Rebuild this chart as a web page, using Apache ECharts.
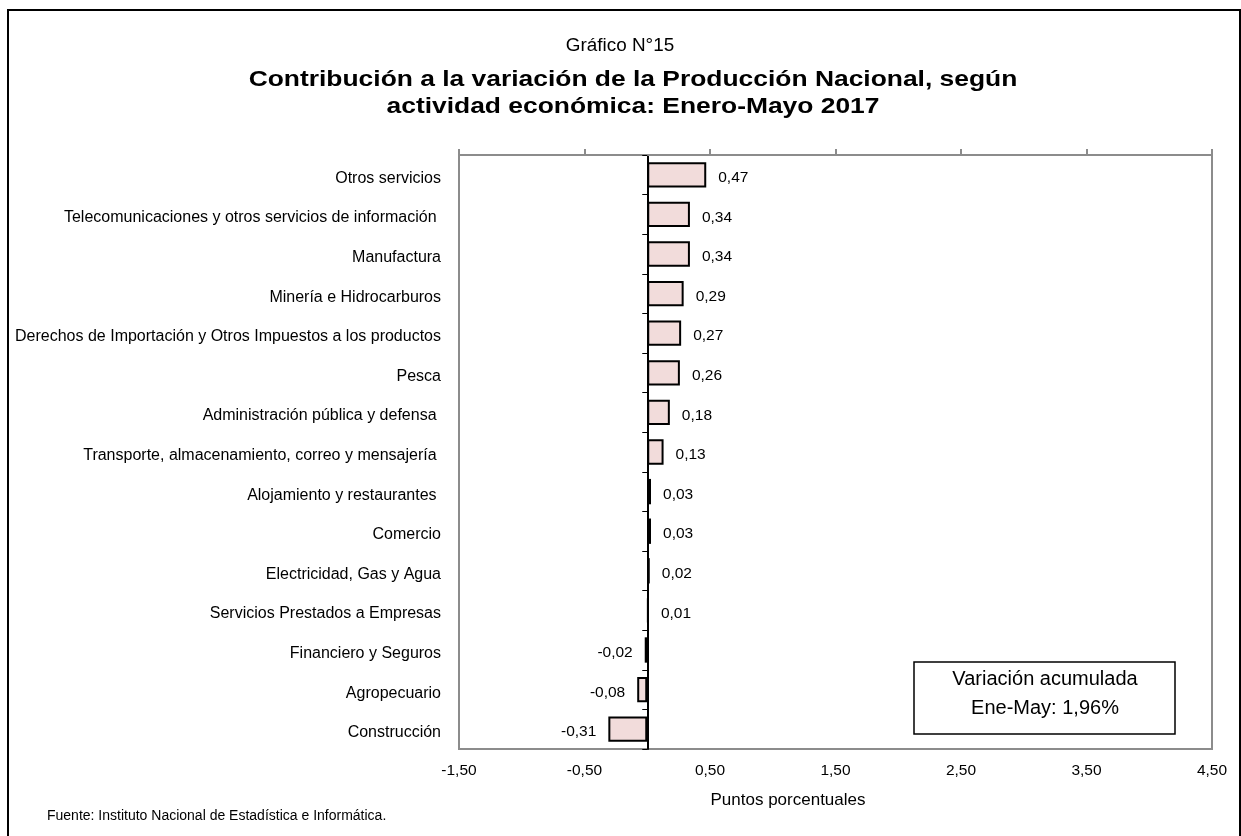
<!DOCTYPE html>
<html>
<head>
<meta charset="utf-8">
<script src="https://cdn.jsdelivr.net/npm/echarts@6/dist/echarts.min.js"></script>
<style>
html,body{margin:0;padding:0;background:#fff;}
#chart{width:1241px;height:836px;}
</style>
</head>
<body>
<div id="chart"></div>
<script>
var categories = [
  "Otros servicios",
  "Telecomunicaciones y otros servicios de información ",
  "Manufactura",
  "Minería e Hidrocarburos",
  "Derechos de Importación y Otros Impuestos a los productos",
  "Pesca",
  "Administración pública y defensa ",
  "Transporte, almacenamiento, correo y mensajería ",
  "Alojamiento y restaurantes ",
  "Comercio",
  "Electricidad, Gas y Agua",
  "Servicios Prestados a Empresas",
  "Financiero y Seguros",
  "Agropecuario",
  "Construcción"
];
var values = [0.47, 0.34, 0.34, 0.29, 0.27, 0.26, 0.18, 0.13, 0.03, 0.03, 0.02, 0.01, -0.02, -0.08, -0.31];
var xMin = -1.5, xMax = 4.5, xStep = 1;
var titleTop = "Gráfico N°15";
var titleLines = ["Contribución a la variación de la Producción Nacional, según", "actividad económica: Enero-Mayo 2017"];
var axisName = "Puntos porcentuales";
var sourceText = "Fuente: Instituto Nacional de Estadística e Informática.";
var boxLines = ["Variación acumulada", "Ene-May: 1,96%"];

function fmt(v){ return v.toFixed(2).replace('.', ','); }

var FONT = "'Liberation Sans', Arial, sans-serif";
var chart = echarts.init(document.getElementById('chart'), null, {renderer:'canvas'});

var barData = values.map(function(v){
  return {
    value: v,
    label: { position: v >= 0 ? 'right' : 'left' }
  };
});

var option = {
  backgroundColor: '#fff',
  animation: false,
  textStyle: { fontFamily: FONT },
  grid: {
    left: 459, right: 29, top: 155, bottom: 87,
    show: true, borderColor: '#8c8c8c', borderWidth: 2, backgroundColor: 'transparent'
  },
  xAxis: [
    {
      type: 'value', position: 'bottom', min: xMin, max: xMax, interval: xStep,
      axisLine: { show: false }, axisTick: { show: false }, splitLine: { show: false },
      axisLabel: { formatter: fmt, color: '#000', fontSize: 15.5, fontFamily: FONT, margin: 14 }
    },
    {
      type: 'value', position: 'top', min: xMin, max: xMax, interval: xStep,
      axisLine: { show: true, onZero: false, lineStyle: { color: '#8c8c8c', width: 2 } },
      axisTick: { show: true, length: 6, lineStyle: { color: '#8c8c8c', width: 2 } },
      axisLabel: { show: false }, splitLine: { show: false }
    }
  ],
  yAxis: [
    {
      type: 'category', data: categories, inverse: true, position: 'left',
      axisLine: { show: false, onZero: false }, axisTick: { show: false },
      axisLabel: {
        color: '#000', fontSize: 16, fontFamily: FONT, margin: 18,
        formatter: function(v){ return '{a|' + v + '}'; },
        rich: { a: { color: '#000', fontSize: 16, fontFamily: FONT, padding: [7, 0, 0, 0] } }
      }
    },
    {
      type: 'category', data: categories, inverse: true, position: 'left',
      axisLine: { show: true, onZero: true, lineStyle: { color: '#000', width: 2 } },
      axisTick: { show: true, length: 5, inside: false, lineStyle: { color: '#000', width: 1 } },
      axisLabel: { show: false }
    }
  ],
  series: [{
    type: 'bar',
    xAxisIndex: 0, yAxisIndex: 0,
    data: barData,
    barWidth: '64%',
    itemStyle: { color: '#F2DCDB', borderColor: '#000', borderWidth: 2 },
    label: {
      show: true, distance: 12, offset: [0, 3], color: '#000', fontSize: 15.5, fontFamily: FONT,
      formatter: function(p){ return fmt(p.value); }
    }
  }],
  graphic: [
    { type: 'rect', shape: { x: 8, y: 10, width: 1232, height: 830 },
      style: { fill: 'none', stroke: '#000', lineWidth: 2 }, silent: true, z: 100 },
    { type: 'text', x: 620, y: 46, scaleX: 1.05, style: { text: titleTop, fill: '#000', font: "18px " + FONT, textAlign: 'center', textVerticalAlign: 'middle' } },
    { type: 'text', x: 633, y: 80, scaleX: 1.2, style: { text: titleLines[0], fill: '#000', font: "bold 22px " + FONT, textAlign: 'center', textVerticalAlign: 'middle' } },
    { type: 'text', x: 633, y: 107, scaleX: 1.2, style: { text: titleLines[1], fill: '#000', font: "bold 22px " + FONT, textAlign: 'center', textVerticalAlign: 'middle' } },
    { type: 'text', x: 788, y: 800, style: { text: axisName, fill: '#000', font: "17px " + FONT, textAlign: 'center', textVerticalAlign: 'middle' } },
    { type: 'text', x: 47, y: 816, style: { text: sourceText, fill: '#000', font: "14px " + FONT, textAlign: 'left', textVerticalAlign: 'middle' } },
    { type: 'rect', shape: { x: 914, y: 662, width: 261, height: 72 },
      style: { fill: '#fff', stroke: '#000', lineWidth: 1.5 }, z: 50 },
    { type: 'text', x: 1045, y: 679, z: 51, style: { text: boxLines[0], fill: '#000', font: "20px " + FONT, textAlign: 'center', textVerticalAlign: 'middle' } },
    { type: 'text', x: 1045, y: 708, z: 51, style: { text: boxLines[1], fill: '#000', font: "20px " + FONT, textAlign: 'center', textVerticalAlign: 'middle' } }
  ]
};
chart.setOption(option);
</script>
</body>
</html>
